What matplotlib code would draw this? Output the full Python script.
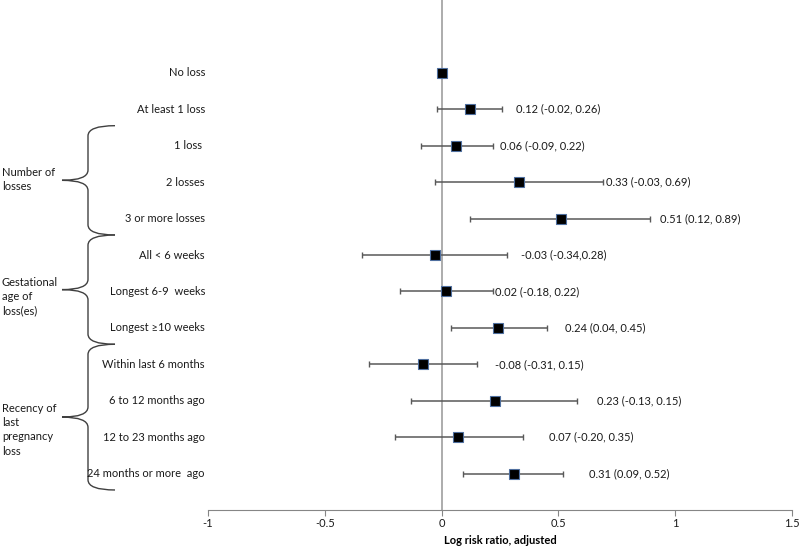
import numpy as np
import matplotlib
matplotlib.use("Agg")
import matplotlib.pyplot as plt
from matplotlib.path import Path
from matplotlib.patches import PathPatch
import matplotlib.transforms as mtrans

plt.rcParams['font.family'] = ['Lato', 'DejaVu Sans']

# rows, top to bottom
row_labels = ["No loss", "At least 1 loss", "1 loss ", "2 losses", "3 or more losses",
              "All < 6 weeks", "Longest 6-9  weeks", "Longest \u226510 weeks",
              "Within last 6 months", "6 to 12 months ago", "12 to 23 months ago",
              "24 months or more  ago"]
estimate = [0.0, 0.12, 0.06, 0.33, 0.51, -0.03, 0.02, 0.24, -0.08, 0.23, 0.07, 0.31]
ci_low = [0.0, -0.02, -0.09, -0.03, 0.12, -0.34, -0.18, 0.04, -0.31, -0.13, -0.20, 0.09]
ci_high = [0.0, 0.26, 0.22, 0.69, 0.89, 0.28, 0.22, 0.45, 0.15, 0.58, 0.35, 0.52]
value_text = ["", "0.12 (-0.02, 0.26)", "0.06 (-0.09, 0.22)", "0.33 (-0.03, 0.69)",
              "0.51 (0.12, 0.89)", "-0.03 (-0.34,0.28)", "0.02 (-0.18, 0.22)",
              "0.24 (0.04, 0.45)", "-0.08 (-0.31, 0.15)", "0.23 (-0.13, 0.15)",
              "0.07 (-0.20, 0.35)", "0.31 (0.09, 0.52)"]
# where each data label starts (x in data units, as placed in the original)
text_x = [0, 0.32, 0.25, 0.705, 0.935, 0.34, 0.23, 0.53, 0.23, 0.665, 0.46, 0.63]

groups = ["Number of\nlosses", "Gestational\nage of\nloss(es)", "Recency of\nlast\npregnancy\nloss"]
group_rows = [(2, 4), (5, 7), (8, 11)]  # index range into row_labels
group_text_y = [9.08, 5.86, 2.2]

FS = 8

n = len(row_labels)
ypos = np.arange(n, 0, -1)
est = np.array(estimate)
err = np.array([est - np.array(ci_low), np.array(ci_high) - est])

fig = plt.figure(figsize=(8, 5.47), dpi=100)
ax = fig.add_axes([0.26, 0.0676, 0.73, 0.9324])

ax.axvline(0, color='#a6a6a6', lw=1.3, zorder=1)
ax.errorbar(est[1:], ypos[1:], xerr=err[:, 1:], fmt='none', ecolor='#595959',
            elinewidth=1.1, capsize=2.5, capthick=1.0, zorder=2)
ax.plot(est, ypos, 's', color='black', markersize=7, markeredgecolor='#4f6f9f',
        markeredgewidth=0.8, zorder=3)

for y, t, tx in zip(ypos, value_text, text_x):
    if t:
        ax.text(tx, y, t, fontsize=FS, va='center', ha='left', color='#1a1a1a')

ax.set_xlim(-1, 1.5)
ax.set_ylim(0, 14)
ax.set_xticks([-1, -0.5, 0, 0.5, 1, 1.5])
ax.set_xticklabels(['-1', '-0.5', '0', '0.5', '1', '1.5'])
ax.set_yticks([])
for s in ['top', 'right', 'left']:
    ax.spines[s].set_visible(False)
ax.spines['bottom'].set_color('#868686')
ax.tick_params(axis='x', length=4, color='#868686', labelsize=FS, labelcolor='#1a1a1a', pad=2)
ax.set_xlabel("Log risk ratio, adjusted", fontsize=FS, fontweight='bold', labelpad=4)

# row labels and braces live left of the axes: x in figure inches, y in data
trans = mtrans.blended_transform_factory(fig.dpi_scale_trans, ax.transData)
px = lambda v: v / fig.dpi

for y, lab in zip(ypos, row_labels):
    ax.text(px(205), y, lab, transform=trans, fontsize=FS, ha='right', va='center',
            color='#1a1a1a', clip_on=False)

for g, (a, b), gy in zip(groups, group_rows, group_text_y):
    top = ypos[a] + 0.55
    bot = ypos[b] - 0.45
    mid = (top + bot) / 2
    xr, xv, xt = px(115), px(88), px(62)
    r = 0.28
    verts = [(xr, top), (xv, top), (xv, top - r),
             (xv, mid + r), (xv, mid), (xt, mid),
             (xv, mid), (xv, mid - r),
             (xv, bot + r), (xv, bot), (xr, bot)]
    codes = [Path.MOVETO, Path.CURVE3, Path.CURVE3,
             Path.LINETO, Path.CURVE3, Path.CURVE3,
             Path.CURVE3, Path.CURVE3,
             Path.LINETO, Path.CURVE3, Path.CURVE3]
    patch = PathPatch(Path(verts, codes), transform=trans, fill=False,
                      edgecolor='#404040', lw=1.0, clip_on=False)
    ax.add_patch(patch)
    ax.text(px(2), gy, g, transform=trans, fontsize=FS, ha='left', va='center',
            linespacing=1.35, color='#1a1a1a', clip_on=False)

fig.savefig("out.png", dpi=100)
